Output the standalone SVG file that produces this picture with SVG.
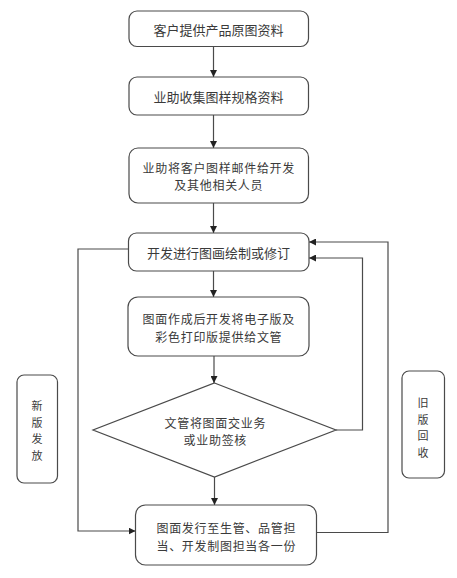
<svg xmlns="http://www.w3.org/2000/svg" width="457" height="578" viewBox="0 0 457 578">
<style>
.box{fill:#fff;stroke:#4a4a4a;stroke-width:1.2}
.ln{fill:none;stroke:#4a4a4a;stroke-width:1.2}
text{font-family:"Noto Sans CJK SC","Liberation Serif",serif;font-size:13px;fill:#3a3a3a;text-anchor:middle;dominant-baseline:central}
.m{font-size:12px;letter-spacing:0.7px}
.v{font-size:11px}
</style>
<defs>
<marker id="ah" viewBox="0 0 10 10" refX="10" refY="5" markerWidth="7" markerHeight="7" markerUnits="userSpaceOnUse" orient="auto">
<path d="M0,0 L10,5 L0,10 z" fill="#222"/>
</marker>
</defs>
<rect width="457" height="578" fill="#fff"/>
<g id="connectors">
<line class="ln" x1="213.5" y1="46" x2="213.5" y2="77" marker-end="url(#ah)"/>
<line class="ln" x1="213.5" y1="115" x2="213.5" y2="148" marker-end="url(#ah)"/>
<line class="ln" x1="213.5" y1="203" x2="213.5" y2="233" marker-end="url(#ah)"/>
<line class="ln" x1="213.5" y1="271" x2="213.5" y2="297" marker-end="url(#ah)"/>
<line class="ln" x1="214" y1="356" x2="214" y2="383" marker-end="url(#ah)"/>
<line class="ln" x1="214.5" y1="477" x2="214.5" y2="505" marker-end="url(#ah)"/>
<polyline class="ln" points="128,249 78,249 78,531 135.5,531" marker-end="url(#ah)"/>
<polyline class="ln" points="316.5,532.5 388,532.5 388,242 309,242" marker-end="url(#ah)"/>
<polyline class="ln" points="336,430 362.5,430 362.5,258 309,258" marker-end="url(#ah)"/>
</g>
<g id="n1"><rect class="box" x="129" y="11" width="179.5" height="35.5" rx="8"/><text x="218.5" y="29">客户提供产品原图资料</text></g>
<g id="n2"><rect class="box" x="129" y="77" width="179.5" height="38" rx="8"/><text x="218.5" y="96">业助收集图样规格资料</text></g>
<g id="n3"><rect class="box" x="129" y="148" width="179.5" height="55" rx="9"/><text class="m" x="218.8" y="167">业助将客户图样邮件给开发</text><text class="m" x="218.8" y="184.5">及其他相关人员</text></g>
<g id="n4"><rect class="box" x="128.5" y="233" width="180.5" height="38" rx="8"/><text x="218.5" y="252">开发进行图画绘制或修订</text></g>
<g id="n5"><rect class="box" x="128" y="297" width="181" height="59" rx="10"/><text class="m" x="218.8" y="318.5">图面作成后开发将电子版及</text><text class="m" x="218.8" y="336">彩色打印版提供给文管</text></g>
<g id="n6"><polygon class="box" points="214.5,383 336,430 214.5,477 93,430"/><text class="m" x="215.3" y="422">文管将图面交业务</text><text class="m" x="215.3" y="439.5">或业助签核</text></g>
<g id="n7"><rect class="box" x="135.5" y="505" width="181" height="60" rx="10"/><text class="m" x="226.3" y="527.5">图面发行至生管、品管担</text><text class="m" x="226.3" y="545">当、开发制图担当各一份</text></g>
<g id="n8"><rect class="box" x="17" y="375" width="40.5" height="108" rx="7"/><text class="v" x="37" y="405">新</text><text class="v" x="37" y="421.5">版</text><text class="v" x="37" y="438">发</text><text class="v" x="37" y="454.5">放</text></g>
<g id="n9"><rect class="box" x="402" y="371" width="42.5" height="107" rx="7"/><text class="v" x="423" y="402">旧</text><text class="v" x="423" y="418.5">版</text><text class="v" x="423" y="435">回</text><text class="v" x="423" y="451.5">收</text></g>
</svg>
